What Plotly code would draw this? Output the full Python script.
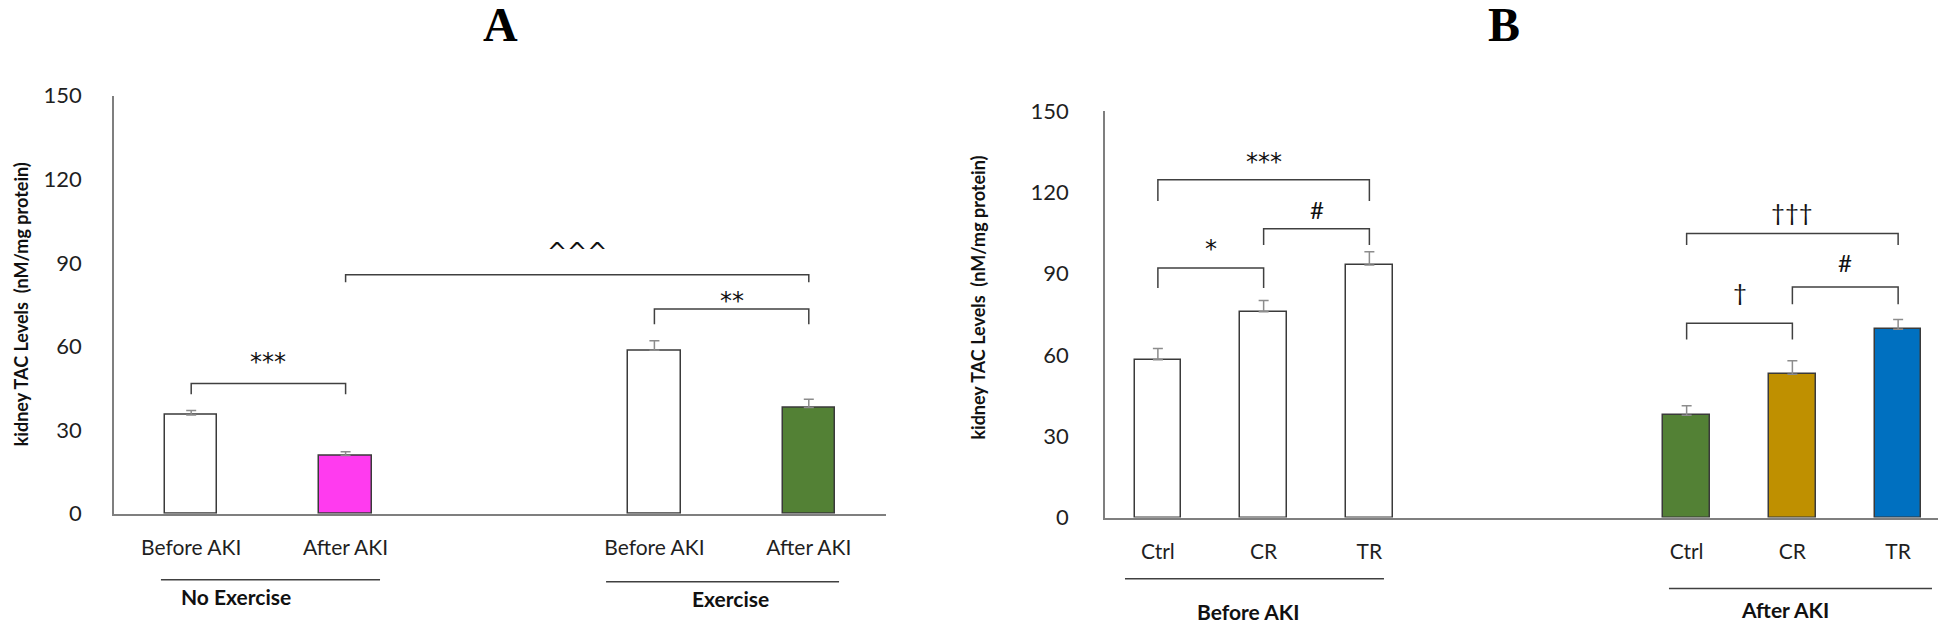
import plotly.graph_objects as go

# ---- data ----
cats_a = ["Before AKI", "After AKI", "Before AKI", "After AKI"]
vals_a = [35.4, 20.9, 58.7, 38.1]
err_a = [1.7, 1.4, 3.4, 3.0]
colors_a = ["#FFFFFF", "#FF3BEF", "#FFFFFF", "#538135"]
groups_a = ["No Exercise", "Exercise"]

cats_b = ["Ctrl", "CR", "TR", "Ctrl", "CR", "TR"]
vals_b = [58.2, 75.9, 93.2, 37.8, 52.9, 69.5]
err_b = [4.2, 4.2, 4.9, 3.5, 5.0, 3.6]
colors_b = ["#FFFFFF", "#FFFFFF", "#FFFFFF", "#538135", "#BF9000", "#0070C0"]
groups_b = ["Before AKI", "After AKI"]

y_ticks = [0, 30, 60, 90, 120, 150]
y_title = "kidney TAC Levels \u00a0(nM/mg protein)"

# significance brackets: (bar i, bar j, top level, leg bottom, label, label y)
sig_a = [
    (0, 1, 46.7, 42.9, "***", 54.5),
    (1, 3, 85.8, 83.1, "^^^", 94.0),
    (2, 3, 73.5, 68.0, "**", 76.5),
]
sig_b = [
    (0, 1, 92.1, 84.7, "*", 99.0),
    (1, 2, 106.6, 100.6, "#", 113.5),
    (0, 2, 124.6, 116.8, "***", 131.0),
    (3, 4, 71.7, 65.7, "\u2020", 83.5),
    (4, 5, 85.1, 78.7, "#", 94.0),
    (3, 5, 104.8, 100.6, "\u2020\u2020\u2020", 113.0),
]

# ---- layout helpers ----
W, H = 1946, 625
slots_a = [0, 1, 3, 4]
slots_b = [0, 1, 2, 5, 6, 7]

def fx(x):
    return x / W

def fy(y):
    return 1 - y / H

FONT = "Lato"
AXIS_COL = "#7f7f7f"
EDGE = "#3a3a3a"

fig = go.Figure()

fig.add_trace(go.Bar(
    x=slots_a, y=vals_a, width=0.34, xaxis="x", yaxis="y",
    marker=dict(color=colors_a, line=dict(color=EDGE, width=1.5)),
    error_y=dict(type="data", symmetric=False, array=err_a, arrayminus=[0] * len(err_a),
                 color="#8c8c8c", thickness=1.5, width=5),
    showlegend=False, hoverinfo="skip"))

fig.add_trace(go.Bar(
    x=slots_b, y=vals_b, width=0.44, xaxis="x2", yaxis="y2",
    marker=dict(color=colors_b, line=dict(color=EDGE, width=1.5)),
    error_y=dict(type="data", symmetric=False, array=err_b, arrayminus=[0] * len(err_b),
                 color="#8c8c8c", thickness=1.5, width=5),
    showlegend=False, hoverinfo="skip"))

annotations = []

def add_brackets(sig, slots, xa, ya):
    for i, j, top, low, label, ly in sig:
        xi, xj = slots[i], slots[j]
        fig.add_trace(go.Scatter(
            x=[xi, xi, xj, xj], y=[low, top, top, low], mode="lines",
            line=dict(color="#404040", width=1.5), xaxis=xa, yaxis=ya,
            showlegend=False, hoverinfo="skip"))
        fam = "DejaVu Sans" if label[0] in "*^" else FONT
        annotations.append(dict(
            x=(xi + xj) / 2, y=ly, xref=xa, yref=ya, text=label, showarrow=False,
            font=dict(family=fam, size=24, color="#111111"),
            xanchor="center", yanchor="middle"))

add_brackets(sig_a, slots_a, "x", "y")
add_brackets(sig_b, slots_b, "x2", "y2")

# group label lines and names (x in axis units, y in pixels)
group_lines = [
    ("x", -0.196, 1.223, 583, groups_a[0], 0.29, 600),
    ("x", 2.687, 4.196, 585, groups_a[1], 3.49, 603),
    ("x2", -0.311, 2.138, 582, groups_b[0], 0.852, 616),
    ("x2", 4.833, 7.32, 592, groups_b[1], 5.93, 614),
]
shapes = []
for xa, x0, x1, ly, name, tx, ty in group_lines:
    shapes.append(dict(type="line", xref=xa, yref="paper", x0=x0, x1=x1,
                       y0=fy(ly), y1=fy(ly), line=dict(color="#404040", width=1.5)))
    annotations.append(dict(x=tx, y=fy(ty), xref=xa, yref="paper", text="<b>%s</b>" % name,
                            showarrow=False, font=dict(family=FONT, size=21, color="#111111"),
                            xanchor="center", yanchor="middle"))

# y axis titles
for x, y in [(13, 295), (970, 288)]:
    annotations.append(dict(x=fx(x), y=fy(y), xref="paper", yref="paper",
                            text="<b>%s</b>" % y_title, textangle=-90, showarrow=False,
                            font=dict(family=FONT, size=18, color="#111111"),
                            xanchor="center", yanchor="middle"))

# panel letters
for letter, x in [("A", 492), ("B", 1496)]:
    annotations.append(dict(x=fx(x), y=1.0, xref="paper", yref="paper",
                            text="<b>%s</b>" % letter, showarrow=False,
                            font=dict(family="Liberation Serif", size=48, color="#000000"),
                            xanchor="center", yanchor="top", yshift=26))

xcommon = dict(showline=True, linecolor=AXIS_COL, linewidth=1.5, ticks="", showgrid=False,
               zeroline=False, tickfont=dict(family=FONT, size=21, color="#1f1f1f"),
               ticklabelstandoff=14)
ycommon = dict(showline=True, linecolor=AXIS_COL, linewidth=1.5, ticks="", showgrid=False,
               zeroline=False, range=[0, 150], tickvals=y_ticks,
               tickfont=dict(family=FONT, size=22, color="#1f1f1f"))

fig.update_layout(
    width=W, height=H, margin=dict(l=0, r=0, t=0, b=0),
    plot_bgcolor="white", paper_bgcolor="white", bargap=0,
    xaxis=dict(xcommon, domain=[fx(106), fx(878)], range=[-0.5, 4.5],
               tickvals=slots_a, ticktext=cats_a, anchor="y"),
    yaxis=dict(ycommon, domain=[fy(514), fy(77)], anchor="x", ticklabelstandoff=26),
    xaxis2=dict(xcommon, domain=[fx(1097), fx(1943)], range=[-0.5, 7.5],
                tickvals=slots_b, ticktext=cats_b, anchor="y2"),
    yaxis2=dict(ycommon, domain=[fy(518), fy(93)], anchor="x2", ticklabelstandoff=30),
    shapes=shapes, annotations=annotations,
)

fig.write_html("out.html")
